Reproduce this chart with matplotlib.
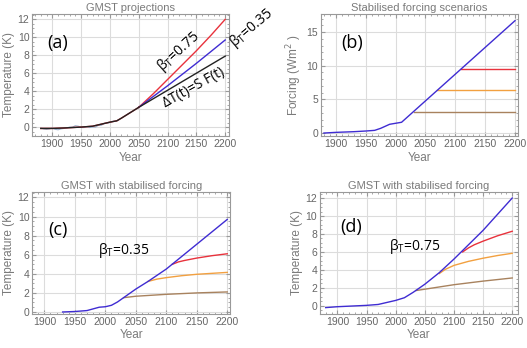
import numpy as np
import matplotlib
matplotlib.use('Agg')
import matplotlib.pyplot as plt
from matplotlib.ticker import MultipleLocator

plt.rcParams['font.family'] = ['Liberation Sans', 'DejaVu Sans']

# panel (a): GMST projections
obs_years = [1880, 1885, 1890, 1895, 1900, 1905, 1910, 1915, 1920, 1925, 1930, 1935,
             1940, 1945, 1950, 1955, 1960, 1965, 1970, 1975, 1980, 1985, 1990, 1995,
             2000, 2005, 2010, 2015]
obs_temp = [-0.1, -0.2, -0.25, -0.2, -0.1, -0.25, -0.3, -0.2, -0.15, -0.1, 0.0, 0.0,
            0.15, 0.1, -0.05, -0.05, 0.05, -0.05, 0.0, 0.0, 0.2, 0.2, 0.4, 0.45,
            0.5, 0.65, 0.65, 0.8]

hist_years = [1880, 1900, 1920, 1950, 1970, 1990, 2000, 2012, 2020, 2030, 2040, 2050]
hist_temp = [-0.15, -0.15, -0.1, 0.0, 0.1, 0.4, 0.55, 0.7, 1.0, 1.4, 1.8, 2.2]
proj_years = [2050, 2075, 2100, 2125, 2150, 2175, 2200]
proj_b075 = [2.2, 3.7, 5.3, 6.9, 8.5, 10.2, 12.0]
proj_b035 = [2.2, 3.4, 4.6, 5.85, 7.1, 8.4, 9.7]
proj_linear = [2.2, 3.15, 4.1, 5.05, 6.0, 6.95, 7.9]

# panel (b): forcing scenarios
forc_years = [1880, 1900, 1930, 1950, 1965, 1975, 1990, 2000, 2010, 2200]
forc_vals = [0.0, 0.1, 0.2, 0.3, 0.4, 0.7, 1.3, 1.45, 1.6, 16.7]
stab_start = [2110, 2070, 2030]
stab_level = [9.55, 6.4, 3.2]

# panel (c): beta_T = 0.35 with stabilised forcing
c_years = [1930, 1950, 1970, 1990, 2000, 2010, 2020, 2030, 2040, 2050, 2070, 2100,
           2125, 2150, 2175, 2200]
c_main = [0.0, 0.05, 0.15, 0.5, 0.55, 0.7, 1.05, 1.5, 1.95, 2.4, 3.2, 4.5,
          5.8, 7.1, 8.4, 9.7]
c_red_years = [2110, 2120, 2130, 2150, 2175, 2200]
c_red = [5.0, 5.25, 5.4, 5.65, 5.9, 6.1]
c_orange_years = [2070, 2085, 2100, 2125, 2150, 2200]
c_orange = [3.2, 3.45, 3.6, 3.8, 3.95, 4.15]
c_brown_years = [2030, 2050, 2075, 2100, 2150, 2200]
c_brown = [1.5, 1.65, 1.75, 1.85, 2.0, 2.1]

# panel (d): beta_T = 0.75 with stabilised forcing
d_years = [1880, 1900, 1950, 1970, 2000, 2015, 2030, 2040, 2050, 2075, 2100, 2125,
           2150, 2175, 2200]
d_main = [-0.2, -0.1, 0.05, 0.15, 0.6, 0.9, 1.5, 1.95, 2.4, 3.7, 5.2, 6.8,
          8.4, 10.2, 12.0]
d_red_years = [2115, 2125, 2135, 2150, 2175, 2200]
d_red = [6.0, 6.45, 6.8, 7.2, 7.8, 8.3]
d_orange_years = [2075, 2085, 2100, 2125, 2150, 2175, 2200]
d_orange = [3.6, 4.05, 4.5, 4.95, 5.3, 5.6, 5.85]
d_brown_years = [2035, 2050, 2075, 2100, 2150, 2200]
d_brown = [1.7, 1.85, 2.1, 2.35, 2.75, 3.1]

RED = '#e8323c'
BLUE = '#3f2cd2'
ORANGE = '#f2a040'
BROWN = '#a8825e'
GRAY = '#7a7a7a'
GRID = '#dcdcdc'
LBL = ['Open Sans', 'DejaVu Sans']


def style(ax, title, ylabel, xlim, ylim, ymaj, ymin):
    ax.set_xlim(*xlim)
    ax.set_ylim(*ylim)
    ax.set_title(title, fontsize=8, color=GRAY, pad=2)
    ax.set_xlabel('Year', fontsize=8.5, color=GRAY, labelpad=2)
    ax.set_ylabel(ylabel, fontsize=8.5, color=GRAY, labelpad=2)
    ax.xaxis.set_major_locator(MultipleLocator(50))
    ax.xaxis.set_minor_locator(MultipleLocator(10))
    ax.yaxis.set_major_locator(MultipleLocator(ymaj))
    ax.yaxis.set_minor_locator(MultipleLocator(ymin))
    ax.tick_params(which='both', direction='in', top=True, right=True,
                   color='#999999', labelsize=7.5, labelcolor='#666666', pad=2)
    ax.tick_params(which='major', length=3)
    ax.tick_params(which='minor', length=1.5)
    for s in ax.spines.values():
        s.set_color('#999999')
        s.set_linewidth(0.8)
    ax.grid(True, which='major', color=GRID, linewidth=0.8)
    ax.set_axisbelow(True)


fig = plt.figure(figsize=(5.27, 3.48), dpi=100)
ax_a = fig.add_axes([0.061, 0.609, 0.374, 0.351])
ax_b = fig.add_axes([0.609, 0.609, 0.374, 0.351])
ax_c = fig.add_axes([0.061, 0.098, 0.376, 0.351])
ax_d = fig.add_axes([0.607, 0.098, 0.376, 0.351])

# (a)
style(ax_a, 'GMST projections', 'Temperature (K)', (1865, 2207), (-1.0, 12.6), 2, 0.5)
ax_a.plot(obs_years, obs_temp, color='#9ab0cc', lw=0.8)
ax_a.plot(proj_years, proj_b075, color=RED, lw=1)
ax_a.plot(proj_years, proj_b035, color=BLUE, lw=1)
ax_a.plot(proj_years, proj_linear, color='#222222', lw=1)
ax_a.plot(hist_years, hist_temp, color=RED, lw=1)
ax_a.plot(hist_years, hist_temp, color='#222222', lw=1)
ax_a.text(0.13, 0.76, '(a)', transform=ax_a.transAxes, fontsize=13, family=LBL,
          ha='center', va='center')
ax_a.text(2119, 8.4, r'$\mathregular{β_T}$=0.75', family=LBL, fontsize=10,
          rotation=42, ha='center', va='center')
ax_a.text(2146, 4.4, 'ΔT(t)=S F(t)', family=LBL, fontsize=10,
          rotation=29, ha='center', va='center')
ax_a.text(2245, 11.0, r'$\mathregular{β_T}$=0.35', family=LBL, fontsize=10,
          rotation=40, ha='center', va='center', clip_on=False)

# (b)
style(ax_b, 'Stabilised forcing scenarios', 'Forcing (Wm$^{2}$ )', (1875, 2205),
      (-0.45, 17.7), 5, 1)
for start, level, col in zip(stab_start, stab_level, [RED, ORANGE, BROWN]):
    ax_b.plot([start, 2200], [level, level], color=col, lw=1)
ax_b.plot(forc_years, forc_vals, color=BLUE, lw=1)
ax_b.text(0.16, 0.76, '(b)', transform=ax_b.transAxes, fontsize=13, family=LBL,
          ha='center', va='center')

# (c)
style(ax_c, 'GMST with stabilised forcing', 'Temperature (K)', (1880, 2205),
      (-0.2, 12.6), 2, 0.5)
ax_c.plot(c_red_years, c_red, color=RED, lw=1)
ax_c.plot(c_orange_years, c_orange, color=ORANGE, lw=1)
ax_c.plot(c_brown_years, c_brown, color=BROWN, lw=1)
ax_c.plot(c_years, c_main, color=BLUE, lw=1)
ax_c.text(0.13, 0.69, '(c)', transform=ax_c.transAxes, fontsize=13, family=LBL,
          ha='center', va='center')
ax_c.text(0.46, 0.52, r'$\mathregular{β_T}$=0.35', transform=ax_c.transAxes,
          family=LBL, fontsize=10, ha='center', va='center')

# (d)
style(ax_d, 'GMST with stabilised forcing', 'Temperature (K)', (1870, 2210),
      (-0.9, 12.7), 2, 0.5)
ax_d.plot(d_red_years, d_red, color=RED, lw=1)
ax_d.plot(d_orange_years, d_orange, color=ORANGE, lw=1)
ax_d.plot(d_brown_years, d_brown, color=BROWN, lw=1)
ax_d.plot(d_years, d_main, color=BLUE, lw=1)
ax_d.text(0.16, 0.71, '(d)', transform=ax_d.transAxes, fontsize=13, family=LBL,
          ha='center', va='center')
ax_d.text(0.48, 0.55, r'$\mathregular{β_T}$=0.75', transform=ax_d.transAxes,
          family=LBL, fontsize=10, ha='center', va='center')

fig.savefig('out.png', dpi=100)
